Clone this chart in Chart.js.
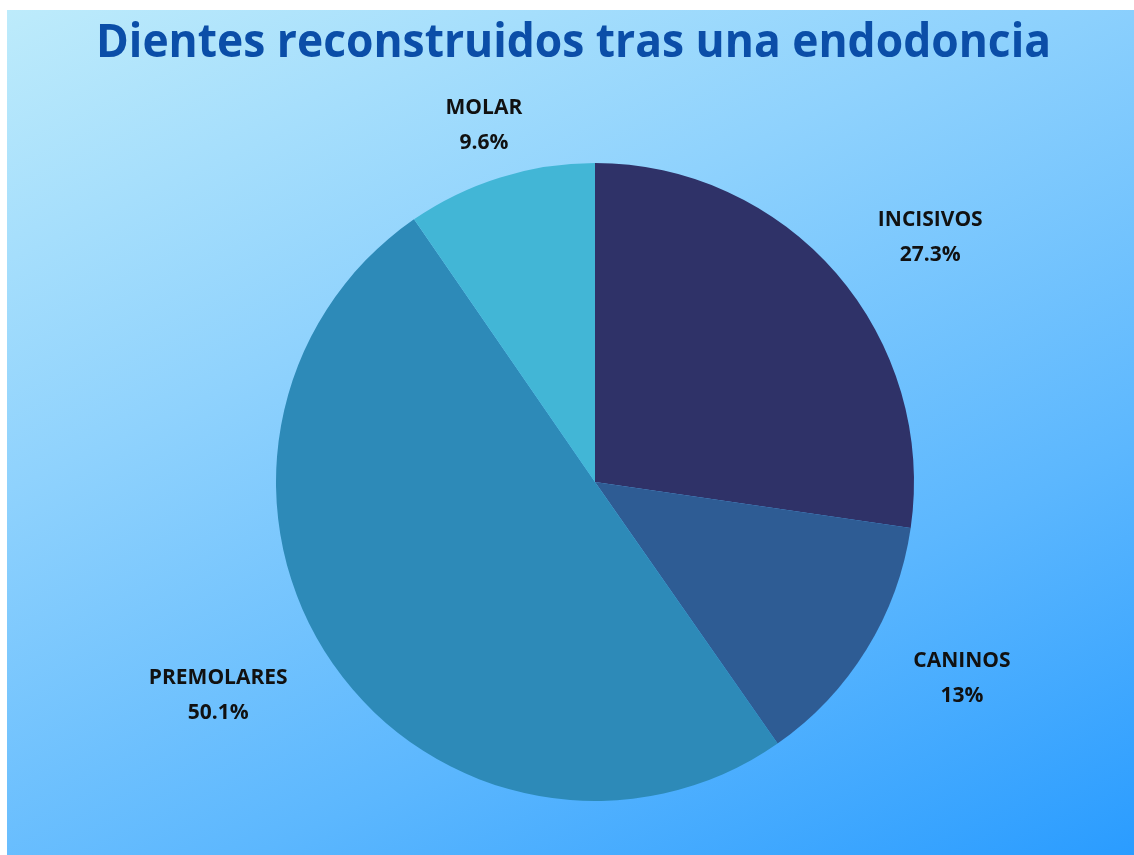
<!DOCTYPE html>
<html>
<head>
<meta charset="utf-8">
<script src="https://cdn.jsdelivr.net/npm/chart.js@4"></script>
<style>
  html, body { margin: 0; padding: 0; background: #fff; }
  #fondo {
    position: absolute; left: 7px; top: 10px; width: 1127px; height: 845px;
    background: linear-gradient(155deg, #bdebfb 0%, #8fd2fd 35%, #5cb7fe 70%, #2a9cff 100%);
  }
  canvas { display: block; }
</style>
</head>
<body>
<div id="fondo"><canvas id="grafico" width="1127" height="845"></canvas></div>
<script>
// datos del gráfico
const titulo = "Dientes reconstruidos tras una endodoncia";
const categorias = ["INCISIVOS", "CANINOS", "PREMOLARES", "MOLAR"];
const porcentajes = [27.3, 13, 50.1, 9.6];
const colores = ["#2f3268", "#2e5c94", "#2d8ab8", "#42b6d6"];

/* =======================
   TÍTULO (ancho completo)
======================= */
const tituloPlugin = {
  id: "tituloPlugin",
  afterDraw(chart) {
    const ctx = chart.ctx;
    ctx.save();
    ctx.font = "bold 46px 'Open Sans'";
    ctx.fillStyle = "#0b4ea8";
    ctx.textAlign = "center";
    ctx.textBaseline = "alphabetic";
    ctx.fillText(titulo, chart.width / 2 + 3, 47, 955);
    ctx.restore();
  }
};

/* =======================
   ETIQUETAS EXTERIORES
======================= */
const etiquetasFuera = {
  id: "etiquetasFuera",
  afterDatasetsDraw(chart) {
    const ctx = chart.ctx;
    const meta = chart.getDatasetMeta(0);
    ctx.save();
    ctx.font = "bold 21px 'Open Sans'";
    ctx.fillStyle = "#111";
    ctx.textAlign = "center";
    ctx.textBaseline = "middle";

    meta.data.forEach((arc, i) => {
      const mid = (arc.startAngle + arc.endAngle) / 2;
      const dx = Math.cos(mid);
      const dy = Math.sin(mid);
      const R = arc.outerRadius + 55;

      const linea1 = categorias[i];
      const linea2 = porcentajes[i] + "%";
      const w = Math.max(ctx.measureText(linea1).width, ctx.measureText(linea2).width);

      // desplazar hacia fuera cuando la etiqueta queda a un lado
      let f = (Math.abs(dx) - 0.3) / 0.4;
      f = Math.max(0, Math.min(1, f));

      const cx = arc.x + dx * R + Math.sign(dx) * (w / 2) * f;
      const cy = arc.y + dy * R;

      ctx.fillText(linea1, cx, cy - 17);
      ctx.fillText(linea2, cx, cy + 18);
    });
    ctx.restore();
  }
};

/* =======================
   GRÁFICO
======================= */
new Chart(document.getElementById("grafico"), {
  type: "pie",
  data: {
    labels: categorias,
    datasets: [{
      data: porcentajes,
      backgroundColor: colores,
      borderWidth: 0
    }]
  },
  options: {
    responsive: false,
    animation: false,
    devicePixelRatio: 1,
    layout: { padding: { top: 153, bottom: 54, left: 250, right: 201 } },
    plugins: {
      legend: { display: false },
      tooltip: { enabled: false },
      title: { display: false }
    }
  },
  plugins: [etiquetasFuera, tituloPlugin]
});
</script>
</body>
</html>
